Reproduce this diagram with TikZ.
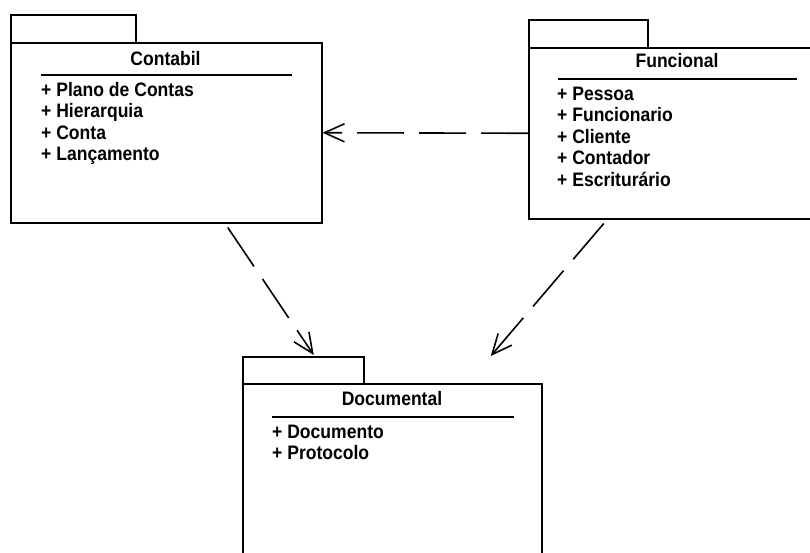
\documentclass[tikz,border=0pt]{standalone}
\usepackage{fontspec}
\setmainfont{Liberation Sans}[FakeStretch=0.9]
\usetikzlibrary{arrows.meta,calc}
\begin{document}
\begin{tikzpicture}[x=1pt,y=-1pt,
  pkgbody/.style={draw,line width=1.5pt,inner sep=0pt,anchor=north west},
  pkgtab/.style={draw,line width=1.5pt,inner sep=0pt,anchor=north west},
  sepline/.style={line width=1.4pt},
  pkgname/.style={anchor=base,inner sep=0pt,font=\fontsize{19.5}{23}\selectfont\bfseries},
  member/.style={anchor=base west,inner sep=0pt,font=\fontsize{19.5}{23}\selectfont\bfseries},
  dep/.style={line width=1.6pt,dash pattern=on 47pt off 15pt,
    -{Straight Barb[length=20pt,width=18pt,line width=1.6pt]}}]
\useasboundingbox (0,0) rectangle (810,552);
\clip (0,0) rectangle (810,552);

% package Contabil
\node[pkgtab,minimum width=125pt,minimum height=28pt] (contabiltab) at (10,14) {};
\node[pkgbody,minimum width=311pt,minimum height=180pt] (contabil) at (10,42) {};
\node[pkgname] (contabilname) at (165.5,65.5) {Contabil};
\draw[sepline] (41,75) -- (292,75);
\node[member] (c1) at (41,96) {+ Plano de Contas};
\node[member] (c2) at (41,117.5) {+ Hierarquia};
\node[member] (c3) at (41,139) {+ Conta};
\node[member] (c4) at (41,160.5) {+ Lançamento};

% package Funcional
\node[pkgtab,minimum width=119pt,minimum height=28pt] (funcionaltab) at (528,19) {};
\node[pkgbody,minimum width=298pt,minimum height=171pt] (funcional) at (528,47) {};
\node[pkgname] (funcionalname) at (677,67) {Funcional};
\draw[sepline] (558,79) -- (797,79);
\node[member] (f1) at (557,100) {+ Pessoa};
\node[member] (f2) at (557,121.5) {+ Funcionario};
\node[member] (f3) at (557,143) {+ Cliente};
\node[member] (f4) at (557,164.5) {+ Contador};
\node[member] (f5) at (557,186) {+ Escriturário};

% package Documental
\node[pkgtab,minimum width=121pt,minimum height=27pt] (documentaltab) at (242,356) {};
\node[pkgbody,minimum width=299pt,minimum height=200pt] (documental) at (242,383) {};
\node[pkgname] (documentalname) at (392,405) {Documental};
\draw[sepline] (272,417) -- (514,417);
\node[member] (d1) at (272,438) {+ Documento};
\node[member] (d2) at (272,459.5) {+ Protocolo};

% dependencies
\draw[dep] (funcional.west) -- (contabil.east);
\draw[dep] ([xshift=61.5pt,yshift=-4pt]contabil.south) -- ([xshift=10.5pt,yshift=1pt]documentaltab.north);
\draw[dep] ([xshift=-74pt,yshift=-4pt]funcional.south) -- ([xshift=187.5pt]documentaltab.north);
\end{tikzpicture}
\end{document}
